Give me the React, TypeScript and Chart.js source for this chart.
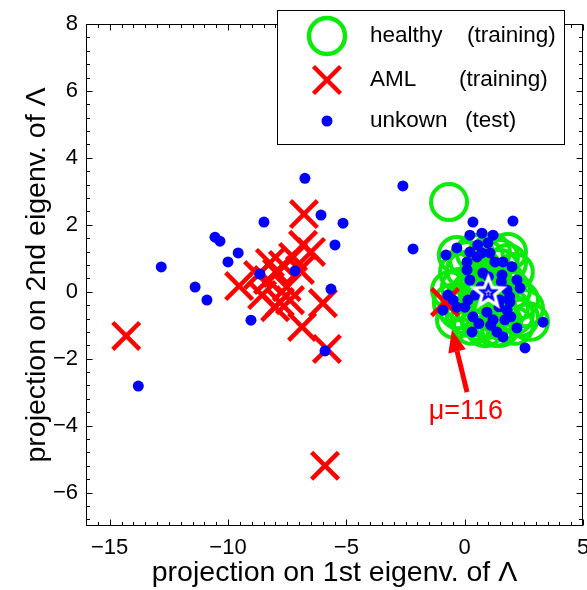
import React, { useEffect, useRef } from 'react';
import { Chart, registerables } from 'chart.js';

Chart.register(...registerables);

const FONT = '"Liberation Sans", Arial, Helvetica, sans-serif';

// axes
const xRange = [-16, 5];
const yRange = [-7, 8];
const xTickValues = [-15, -10, -5, 0, 5];
const yTickValues = [-6, -4, -2, 0, 2, 4, 6, 8];
const xTitle = 'projection on 1st eigenv. of \u039B';
const yTitle = 'projection on 2nd eigenv. of \u039B';

// healthy (training)
const healthyX = [-0.66, -0.33, 0.43, 1.15, 1.83, 0.01, 0.73, 1.49, 2.12, -0.2, 0.44, 1.28, 2.0, 2.34, -0.54, -0.11, 0.56, 1.28, 1.91, -0.41, 0.22, 0.94, 1.62, 2.34, 2.76, 0.31, 0.86, 1.49, 2.12, 1.07,
  0.86, 1.49, 0.14, -0.28, 1.07, 1.7, 0.22, 0.86, 1.49, -0.28, 0.44, 1.49, 2.12, 0.65, 1.28, 0.01, 2.55, 1.83, 0.56, -0.62];
const healthyY = [2.68, 1.1, 1.16, 1.19, 1.19, 0.65, 0.71, 0.71, 0.59, 0.14, 0.2, 0.2, 0.05, -0.25, -0.34, -0.31, -0.25, -0.31, -0.46, -0.84, -0.78, -0.84, -0.9, -0.78, -0.9, -1.02, -1.09, -1.08, -1.02, -0.55,
  1.01, 1.01, 0.95, 0.59, 0.41, 0.35, -0.01, -0.1, -0.01, -0.55, -0.55, -0.67, -0.7, -0.91, -1.08, -0.7, -0.49, 0.86, 0.5, 0.05];

// AML (training)
const amlX = [-14.3, -5.9, -9.53, -6.79, -6.83, -6.49, -8.56, -8.23, -7.93, -7.81, -7.52, -6.96, -7.25, -8.01, -8.31, -7.68, -7.38, -8.73, -5.99, -6.87, -5.82, -0.83];
const amlY = [-1.32, -5.2, 0.17, 2.32, 1.4, 1.19, -0.1, 0.86, 0.56, -0.31, 0.14, 0.65, 1.04, -0.46, 0.35, 0.8, -0.25, 0.5, -0.34, -1.05, -1.71, -0.31];

// unknown (test)
const unknownX = [-12.82, -13.79, -11.39, -10.89, -10.55, -10.34, -9.57, -10.0, -9.03, -8.48, -8.65, -7.17, -6.75, -6.07, -5.14, -5.48, -5.65, -5.9, -2.61, -2.18,
  0.35, 2.04, -0.79, -0.33, 0.22, 0.73, 1.2, 0.98, 0.22, 0.73, 0.1, 1.28, 1.62, 1.07, 0.52, 0.1, 0.77, 1.58, 2.21, 0.22, 2.34, 1.79, -0.71, -0.49, 0.14, 0.01, 1.49, 1.91, 1.79, 0.94, 1.2, 1.7, 2.21, 1.36, 0.31, 1.62, 3.31, 2.55, -0.92, -0.33,
  0.45, 1.55, 0.35, 0.6, 1.95, 2.0, 0.55, 1.1, 1.45, 0.7, 1.0, 1.9];
const unknownY = [0.74, -2.82, 0.14, -0.25, 1.63, 1.51, 1.16, 0.89, -0.85, 2.08, 0.53, 0.62, 3.39, 2.29, 2.05, 1.4, 0.08, -1.77, 3.16, 1.28,
  2.08, 2.11, 1.1, 1.31, 1.69, 1.75, 1.69, 1.46, 1.19, 1.16, 0.89, 0.89, 0.89, 1.16, 1.04, 0.65, 0.56, 0.5, 0.35, 0.35, 0.11, 0.05, -0.1, -0.25, -0.25, -0.46, -0.25, -0.31, -0.55, -0.61, -0.84, -0.84, -1.08, -1.2, -1.2, -1.35, -0.91, -1.68, -0.55, -0.46,
  -0.1, 0.3, -0.75, -0.95, -0.75, 0.75, 1.4, -1.0, -0.45, 0.15, 0.45, -0.15];

// centroid of healthy class
const centroidX = [1.0];
const centroidY = [0.0];

// legend
const legendNames = ['healthy', 'AML', 'unkown'];
const legendNotes = ['(training)', '(training)', '(test)'];

// annotation
const annotationText = '\u03BC=116';
const arrowTip = [-0.54, -1.14];
const arrowTail = [0.1, -3.0];
const annotationPos = [0.05, -3.58];

const GREEN = 'rgb(10,235,10)';
const RED = 'rgb(255,0,0)';
const BLUE = 'rgb(0,0,255)';

function zip(xs: number[], ys: number[]) {
  return xs.map((x, i) => ({ x, y: ys[i] }));
}

function fmt(v: number) {
  return v < 0 ? '\u2212' + Math.abs(v) : String(v);
}

function starPath(g: CanvasRenderingContext2D, cx: number, cy: number, r: number, ratio: number) {
  g.beginPath();
  for (let i = 0; i < 10; i++) {
    const rr = i % 2 === 0 ? r : r * ratio;
    const a = -Math.PI / 2 + (i * Math.PI) / 5;
    const px = cx + rr * Math.cos(a);
    const py = cy + rr * Math.sin(a);
    if (i === 0) g.moveTo(px, py);
    else g.lineTo(px, py);
  }
  g.closePath();
}

function makeStar(): HTMLCanvasElement {
  const c = document.createElement('canvas');
  c.width = 44;
  c.height = 44;
  const g = c.getContext('2d')!;
  starPath(g, 22, 23, 20, 0.42);
  g.fillStyle = '#fff';
  g.fill();
  starPath(g, 22, 23, 7.5, 0.42);
  g.strokeStyle = BLUE;
  g.lineWidth = 2.5;
  g.lineJoin = 'miter';
  g.stroke();
  g.beginPath();
  g.arc(22, 23.5, 1.5, 0, Math.PI * 2);
  g.fillStyle = BLUE;
  g.fill();
  return c;
}

const decorPlugin = {
  id: 'decor',
  afterDraw(chart: any) {
    const { ctx, chartArea: a, scales } = chart;
    const xs = scales.x;
    const ys = scales.y;
    ctx.save();
    // frame
    ctx.strokeStyle = '#000';
    ctx.lineWidth = 1;
    const L = Math.round(a.left) + 0.5;
    const R = Math.round(a.right) - 0.5;
    const T = Math.round(a.top) + 0.5;
    const B = Math.round(a.bottom) - 0.5;
    ctx.strokeRect(L, T, R - L, B - T);
    // ticks (inward, all four sides)
    ctx.beginPath();
    for (let k = -40; k <= 20; k++) {
      const v = k * 0.5;
      if (v < xRange[0] || v > xRange[1]) continue;
      const major = Math.abs(v % 5) < 1e-9;
      const len = major ? 6 : 3.5;
      const px = Math.round(xs.getPixelForValue(v)) + 0.5;
      ctx.moveTo(px, B);
      ctx.lineTo(px, B - len);
      ctx.moveTo(px, T);
      ctx.lineTo(px, T + len);
    }
    for (let k = -20; k <= 25; k++) {
      const v = k * 0.4;
      if (v < yRange[0] - 1e-9 || v > yRange[1] + 1e-9) continue;
      const major = Math.abs(Math.round(v) - v) < 1e-9 && Math.round(v) % 2 === 0;
      const len = major ? 6 : 3.5;
      const py = Math.round(ys.getPixelForValue(v)) + 0.5;
      ctx.moveTo(L, py);
      ctx.lineTo(L + len, py);
      ctx.moveTo(R, py);
      ctx.lineTo(R - len, py);
    }
    ctx.stroke();

    // arrow annotation
    const tx = xs.getPixelForValue(arrowTail[0]);
    const ty = ys.getPixelForValue(arrowTail[1]);
    const hx = xs.getPixelForValue(arrowTip[0]);
    const hy = ys.getPixelForValue(arrowTip[1]);
    const ang = Math.atan2(hy - ty, hx - tx);
    const headLen = 22;
    const headHalf = 9;
    const bx = hx - headLen * Math.cos(ang);
    const by = hy - headLen * Math.sin(ang);
    ctx.strokeStyle = RED;
    ctx.fillStyle = RED;
    ctx.lineWidth = 5;
    ctx.beginPath();
    ctx.moveTo(tx, ty);
    ctx.lineTo(bx, by);
    ctx.stroke();
    ctx.beginPath();
    ctx.moveTo(hx, hy);
    ctx.lineTo(bx + headHalf * Math.sin(ang), by - headHalf * Math.cos(ang));
    ctx.lineTo(bx - headHalf * Math.sin(ang), by + headHalf * Math.cos(ang));
    ctx.closePath();
    ctx.fill();
    ctx.font = '27px ' + FONT;
    ctx.textAlign = 'center';
    ctx.textBaseline = 'middle';
    ctx.fillText(annotationText, xs.getPixelForValue(annotationPos[0]), ys.getPixelForValue(annotationPos[1]));

    // legend
    const box = { left: 277, top: 10, right: 565, bottom: 145 };
    ctx.fillStyle = '#fff';
    ctx.fillRect(box.left, box.top, box.right - box.left, box.bottom - box.top);
    ctx.strokeStyle = '#000';
    ctx.lineWidth = 1;
    ctx.strokeRect(box.left + 0.5, box.top + 0.5, box.right - box.left - 1, box.bottom - box.top - 1);
    const rowsY = [36, 80, 121];
    const noteX = [467, 459, 465];
    const mx = 327;
    // healthy marker
    ctx.strokeStyle = GREEN;
    ctx.lineWidth = 4.5;
    ctx.beginPath();
    ctx.arc(mx, rowsY[0], 18, 0, Math.PI * 2);
    ctx.stroke();
    // AML marker
    ctx.strokeStyle = RED;
    ctx.lineWidth = 4.5;
    ctx.beginPath();
    ctx.moveTo(mx - 13.5, rowsY[1] - 13.5);
    ctx.lineTo(mx + 13.5, rowsY[1] + 13.5);
    ctx.moveTo(mx + 13.5, rowsY[1] - 13.5);
    ctx.lineTo(mx - 13.5, rowsY[1] + 13.5);
    ctx.stroke();
    // unknown marker
    ctx.fillStyle = BLUE;
    ctx.beginPath();
    ctx.arc(mx, rowsY[2], 5.5, 0, Math.PI * 2);
    ctx.fill();
    ctx.fillStyle = '#000';
    ctx.font = '22.5px ' + FONT;
    ctx.textAlign = 'left';
    ctx.textBaseline = 'middle';
    legendNames.forEach((n, i) => {
      ctx.fillText(n, 370, rowsY[i]);
      ctx.fillText(legendNotes[i], noteX[i], rowsY[i]);
    });
    ctx.restore();
  },
};

export default function App() {
  const ref = useRef<HTMLCanvasElement>(null);
  useEffect(() => {
    const canvas = ref.current!;
    const star = makeStar();
    const chart = new Chart(canvas, {
      type: 'scatter',
      data: {
        datasets: [
          {
            label: 'centroid',
            data: zip(centroidX, centroidY),
            pointStyle: star as any,
            pointRadius: 20,
            order: 0,
          },
          {
            label: legendNames[2],
            data: zip(unknownX, unknownY),
            pointStyle: 'circle',
            pointRadius: 5.5,
            pointBorderWidth: 0,
            pointBackgroundColor: BLUE,
            pointBorderColor: BLUE,
            order: 1,
          },
          {
            label: legendNames[1],
            data: zip(amlX, amlY),
            pointStyle: 'crossRot',
            pointRadius: 19,
            pointBorderWidth: 4.5,
            pointBorderColor: RED,
            pointBackgroundColor: RED,
            order: 2,
          },
          {
            label: legendNames[0],
            data: zip(healthyX, healthyY),
            pointStyle: 'circle',
            pointRadius: 18,
            pointBorderWidth: 4,
            pointBorderColor: GREEN,
            pointBackgroundColor: 'rgba(0,0,0,0)',
            order: 3,
          },
        ] as any,
      },
      options: {
        responsive: false,
        maintainAspectRatio: false,
        devicePixelRatio: 1,
        animation: false,
        layout: { autoPadding: false, padding: { top: 24, right: 4, left: 0, bottom: 0 } },
        plugins: {
          legend: { display: false },
          tooltip: { enabled: false },
        },
        scales: {
          x: {
            type: 'linear',
            min: xRange[0],
            max: xRange[1],
            afterBuildTicks: (s: any) => {
              s.ticks = xTickValues.map((v) => ({ value: v }));
            },
            afterFit: (s: any) => {
              s.height = 64;
              s.paddingLeft = 0;
              s.paddingRight = 0;
            },
            ticks: {
              callback: (v: any) => fmt(Number(v)),
              font: { family: FONT, size: 22 },
              color: '#000',
              padding: 0,
              maxRotation: 0,
              autoSkip: false,
            },
            grid: { display: false, drawTicks: true, tickLength: 9 },
            border: { display: false },
            title: {
              display: true,
              text: xTitle,
              font: { family: FONT, size: 28.5 },
              color: '#000',
              padding: { top: 0, bottom: 0 },
            },
          },
          y: {
            type: 'linear',
            min: yRange[0],
            max: yRange[1],
            afterBuildTicks: (s: any) => {
              s.ticks = yTickValues.map((v) => ({ value: v }));
            },
            afterFit: (s: any) => {
              s.width = 86;
              s.paddingTop = 0;
              s.paddingBottom = 0;
            },
            ticks: {
              callback: (v: any) => fmt(Number(v)),
              font: { family: FONT, size: 22 },
              color: '#000',
              padding: 0,
              autoSkip: false,
            },
            grid: { display: false, drawTicks: true, tickLength: 8 },
            border: { display: false },
            title: {
              display: true,
              text: yTitle,
              font: { family: FONT, size: 28.5 },
              color: '#000',
              padding: { top: 20, bottom: 0 },
            },
          },
        },
      } as any,
      plugins: [decorPlugin],
    });
    return () => chart.destroy();
  }, []);
  return (
    <div style={{ position: 'fixed', left: 0, top: 0, width: 587, height: 590, background: '#fff' }}>
      <canvas ref={ref} width={587} height={590} style={{ display: 'block', width: 587, height: 590 }} />
    </div>
  );
}
